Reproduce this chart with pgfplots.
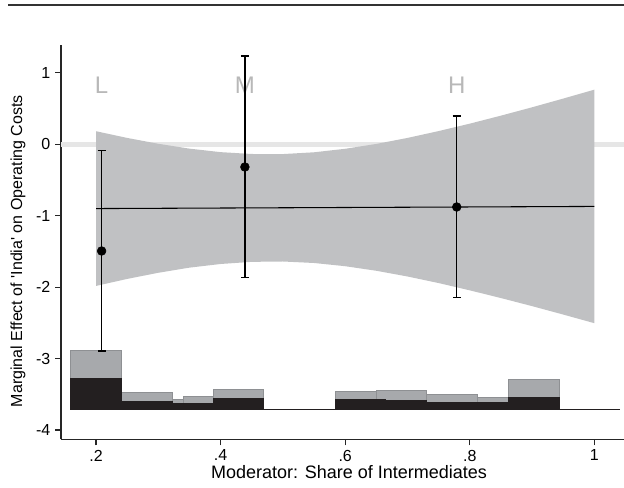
\documentclass[border=0pt]{standalone}
\usepackage{pgfplots}
\pgfplotsset{compat=1.18}
\usepackage{fontspec}
\setmainfont{Liberation Sans}
\definecolor{bandgray}{HTML}{C0C1C3}
\definecolor{zerogray}{HTML}{E6E6E6}
\definecolor{histgray}{HTML}{A7A9AC}
\definecolor{histedge}{HTML}{8E9093}
\definecolor{histblack}{HTML}{231F20}
\definecolor{lettergray}{HTML}{B8B8B8}
\newcommand{\histbar}[4]{\addplot[#1] coordinates {(#2,-3.714) (#2,#4) (#3,#4) (#3,-3.714)} -- cycle;}
\begin{document}
\begin{tikzpicture}
\path[use as bounding box] (0,0) rectangle (468pt,365.25pt);
\draw[line width=1.4pt, color=black!80] (6pt,361.3pt) -- (468pt,361.3pt);
\begin{axis}[
 at={(45.75pt,35.8pt)}, anchor=south west, scale only axis,
 width=422.25pt, height=295.7pt,
 xmin=0.1438, xmax=1.0475, ymin=-4.13, ymax=1.39,
 axis x line*=bottom, axis y line*=left,
 axis line style={-, line width=0.8pt, black!85},
 tick align=outside, major tick length=4.5pt,
 tick style={line width=0.8pt, black!85},
 xtick={0.2,0.4,0.6,0.8,1}, xticklabels={.2,.4,.6,.8,1},
 ytick={-4,-3,-2,-1,0,1},
 /pgf/number format/assume math mode=true,
 ticklabel style={font=\fontsize{12}{14}\selectfont},
 xlabel={Moderator: Share of Intermediates},
 ylabel={Marginal Effect of \textquotesingle India\textquotesingle\ on Operating Costs},
 every axis x label/.style={at={(axis description cs:0.5,0)}, anchor=center, xshift=4.9pt, yshift=-24.5pt, font=\fontsize{13.5}{16}\selectfont},
 every axis y label/.style={at={(axis description cs:0,0.5)}, anchor=center, xshift=-32.25pt, yshift=-6.75pt, rotate=90, font=\fontsize{12}{14}\selectfont},
]
% zero reference line
\addplot[zerogray, line width=3.8pt] coordinates {(0.1438,0) (1.0475,0)};
% confidence band
\addplot[fill=bandgray, draw=none] coordinates {
(0.2,0.183) (0.25,0.089) (0.3,0.007) (0.35,-0.061) (0.4,-0.110) (0.45,-0.136) (0.5,-0.137) (0.55,-0.112) (0.6,-0.063) (0.65,0.005) (0.7,0.089) (0.75,0.185) (0.8,0.289) (0.85,0.401) (0.9,0.518) (0.95,0.640) (1.0,0.765)
(1.0,-2.505) (0.95,-2.384) (0.9,-2.266) (0.85,-2.153) (0.8,-2.045) (0.75,-1.943) (0.7,-1.851) (0.65,-1.771) (0.6,-1.707) (0.55,-1.662) (0.5,-1.641) (0.45,-1.646) (0.4,-1.676) (0.35,-1.727) (0.3,-1.799) (0.25,-1.885) (0.2,-1.983)
} -- cycle;
% histogram (gray)
\histbar{fill=histgray, draw=histedge, line width=0.6pt}{0.1583}{0.2401}{-2.881}
\histbar{fill=histgray, draw=histedge, line width=0.6pt}{0.2401}{0.3220}{-3.469}
\histbar{fill=histgray, draw=histedge, line width=0.6pt}{0.3220}{0.3396}{-3.567}
\histbar{fill=histgray, draw=histedge, line width=0.6pt}{0.3396}{0.3878}{-3.525}
\histbar{fill=histgray, draw=histedge, line width=0.6pt}{0.3878}{0.4681}{-3.427}
\histbar{fill=histgray, draw=histedge, line width=0.6pt}{0.5836}{0.6494}{-3.455}
\histbar{fill=histgray, draw=histedge, line width=0.6pt}{0.6494}{0.7297}{-3.441}
\histbar{fill=histgray, draw=histedge, line width=0.6pt}{0.7297}{0.8116}{-3.497}
\histbar{fill=histgray, draw=histedge, line width=0.6pt}{0.8116}{0.8613}{-3.539}
\histbar{fill=histgray, draw=histedge, line width=0.6pt}{0.8613}{0.9432}{-3.287}
% histogram (black)
\histbar{fill=histblack, draw=histblack, line width=0.3pt}{0.1583}{0.2401}{-3.273}
\histbar{fill=histblack, draw=histblack, line width=0.3pt}{0.2401}{0.3220}{-3.591}
\histbar{fill=histblack, draw=histblack, line width=0.3pt}{0.3220}{0.3878}{-3.623}
\histbar{fill=histblack, draw=histblack, line width=0.3pt}{0.3878}{0.4681}{-3.553}
\histbar{fill=histblack, draw=histblack, line width=0.3pt}{0.5836}{0.6638}{-3.567}
\histbar{fill=histblack, draw=histblack, line width=0.3pt}{0.6638}{0.7297}{-3.588}
\histbar{fill=histblack, draw=histblack, line width=0.3pt}{0.7297}{0.8613}{-3.609}
\histbar{fill=histblack, draw=histblack, line width=0.3pt}{0.8613}{0.9432}{-3.539}
\addplot[histblack, line width=1.1pt] coordinates {(0.1583,-3.714) (1.0411,-3.714)};
% fitted marginal effect
\addplot[black, line width=0.8pt] coordinates {(0.2,-0.900) (1.0,-0.870)};
% L / M / H labels
\node[text=lettergray, font=\fontsize{18}{21}\selectfont] at (axis cs:0.209,0.83) {L};
\node[text=lettergray, font=\fontsize{18}{21}\selectfont] at (axis cs:0.439,0.83) {M};
\node[text=lettergray, font=\fontsize{18}{21}\selectfont] at (axis cs:0.779,0.83) {H};
% point estimates with CIs
\addplot[black, only marks, mark=*, mark size=3.3pt,
 error bars/.cd, y dir=both, y explicit,
 error bar style={line width=0.9pt, black},
 error mark options={rotate=90, mark size=3pt, line width=0.9pt, black}] coordinates {
(0.209,-1.494) += (0,1.404) -= (0,1.401)
(0.439,-0.318) += (0,1.555) -= (0,1.552)
(0.779,-0.878) += (0,1.273) -= (0,1.262)
};
\end{axis}
\end{tikzpicture}
\end{document}
